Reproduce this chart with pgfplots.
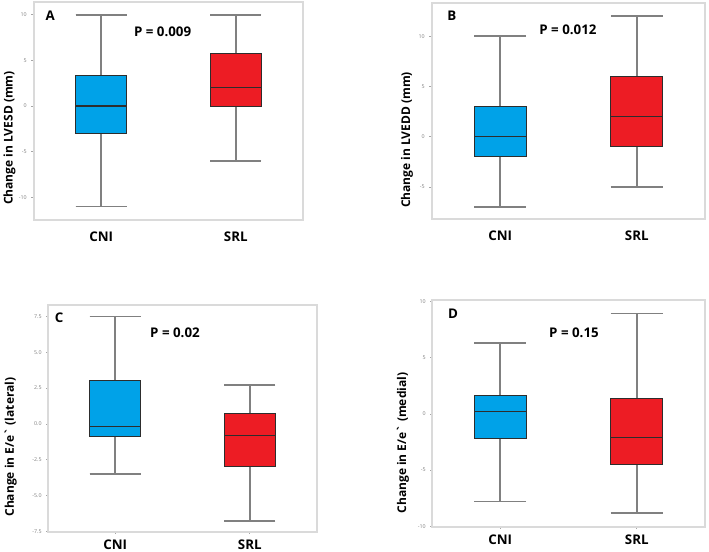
\documentclass[border=0pt]{standalone}
\usepackage{fontspec}
\setmainfont{Open Sans}
\usepackage{pgfplots}
\pgfplotsset{compat=1.18}
\usepgfplotslibrary{statistics}

\definecolor{cniblue}{RGB}{0,162,232}
\definecolor{srlred}{RGB}{237,28,36}
\definecolor{whisk}{RGB}{128,128,128}
\definecolor{framegray}{RGB}{218,218,218}
\definecolor{boxedge}{RGB}{45,45,45}

\pgfplotsset{
  panel/.style={
    scale only axis, anchor=north west, clip=false,
    xmin=0.5, xmax=2.5,
    xtick={1,2}, xticklabels={CNI,SRL},
    axis line style={framegray, line width=1pt},
    ytick pos=left, xtick pos=bottom, tick align=outside,
    major tick length=2pt,
    ytick style={whisk!70, line width=0.4pt},
    yticklabel style={font=\fontsize{4}{4}\selectfont, text=gray,
      /pgf/number format/assume math mode=true},
    xticklabel style={font=\fontsize{10}{12}\selectfont\bfseries, yshift=-3pt},
    boxplot/draw direction=y,
    boxplot/box extend=0.38,
    boxplot/whisker extend=0.38,
    boxplot/every whisker/.style={whisk, line width=1.2pt},
    boxplot/every box/.style={draw=boxedge, line width=0.7pt},
    boxplot/every median/.style={draw=boxedge, line width=0.9pt},
  },
  nodots/.style={xtick style={draw=none}},
  dots/.style={xtick style={whisk!70, line width=0.6pt}, major tick length=1.2pt,
    xticklabel style={yshift=1.5pt}},
}
\newcommand{\ylab}[1]{\fontsize{9}{10}\selectfont\bfseries #1}
\newcommand{\plab}[1]{\fontsize{10}{12}\selectfont\bfseries #1}

\begin{document}
\begin{tikzpicture}
\path[use as bounding box] (0,0) rectangle (531.75pt,414pt);

% A: LVESD
\begin{axis}[panel, nodots, at={(25.5pt,412.5pt)},
  width=201.75pt, height=163.5pt,
  ymin=-12.5, ymax=11.4, ytick={-10,-5,0,5,10}]
\addplot[boxplot prepared={lower whisker=-11, lower quartile=-3, median=0,
  upper quartile=3.3, upper whisker=10, draw position=1}, fill=cniblue]
  coordinates {};
\addplot[boxplot prepared={lower whisker=-6, lower quartile=0, median=2,
  upper quartile=5.8, upper whisker=10, draw position=2}, fill=srlred]
  coordinates {};
\node[rotate=90] at (rel axis cs:-0.091,0.376) {\ylab{Change in LVESD (mm)}};
\node at (rel axis cs:0.06,0.936) {\plab{A}};
\node at (rel axis cs:0.478,0.862) {\plab{P = 0.009}};
\end{axis}

% B: LVEDD
\begin{axis}[panel, nodots, at={(324pt,411.75pt)},
  width=204.75pt, height=162pt,
  ymin=-8.2, ymax=13.3, ytick={-5,0,5,10}]
\addplot[boxplot prepared={lower whisker=-7, lower quartile=-2, median=0,
  upper quartile=3, upper whisker=10, draw position=1}, fill=cniblue]
  coordinates {};
\addplot[boxplot prepared={lower whisker=-5, lower quartile=-1, median=2,
  upper quartile=6, upper whisker=12, draw position=2}, fill=srlred]
  coordinates {};
\node[rotate=90] at (rel axis cs:-0.092,0.366) {\ylab{Change in LVEDD (mm)}};
\node at (rel axis cs:0.073,0.94) {\plab{B}};
\node at (rel axis cs:0.498,0.875) {\plab{P = 0.012}};
\end{axis}

% C: E/e' lateral
\begin{axis}[panel, dots, at={(36pt,185.25pt)},
  width=201.75pt, height=170.25pt,
  ymin=-7.55, ymax=8.3, ytick={-7.5,-5,-2.5,0,2.5,5,7.5},
  yticklabel style={/pgf/number format/.cd, fixed, fixed zerofill, precision=1}]
\addplot[boxplot prepared={lower whisker=-3.5, lower quartile=-0.9, median=-0.2,
  upper quartile=3.05, upper whisker=7.5, draw position=1}, fill=cniblue]
  coordinates {};
\addplot[boxplot prepared={lower whisker=-6.8, lower quartile=-3.0, median=-0.8,
  upper quartile=0.7, upper whisker=2.7, draw position=2}, fill=srlred]
  coordinates {};
\node[rotate=90] at (rel axis cs:-0.139,0.374) {\ylab{Change in E/e\textasciigrave\ (lateral)}};
\node at (rel axis cs:0.041,0.943) {\plab{C}};
\node at (rel axis cs:0.472,0.878) {\plab{P = 0.02}};
\end{axis}

% D: E/e' medial
\begin{axis}[panel, dots, at={(324pt,189pt)},
  width=204.75pt, height=170.25pt,
  ymin=-10.05, ymax=10.1, ytick={-10,-5,0,5,10}]
\addplot[boxplot prepared={lower whisker=-7.8, lower quartile=-2.2, median=0.2,
  upper quartile=1.6, upper whisker=6.3, draw position=1}, fill=cniblue]
  coordinates {};
\addplot[boxplot prepared={lower whisker=-8.8, lower quartile=-4.5, median=-2.1,
  upper quartile=1.4, upper whisker=8.9, draw position=2}, fill=srlred]
  coordinates {};
\node[rotate=90] at (rel axis cs:-0.106,0.37) {\ylab{Change in E/e\textasciigrave\ (medial)}};
\node at (rel axis cs:0.077,0.938) {\plab{D}};
\node at (rel axis cs:0.52,0.856) {\plab{P = 0.15}};
\end{axis}
\end{tikzpicture}
\end{document}
